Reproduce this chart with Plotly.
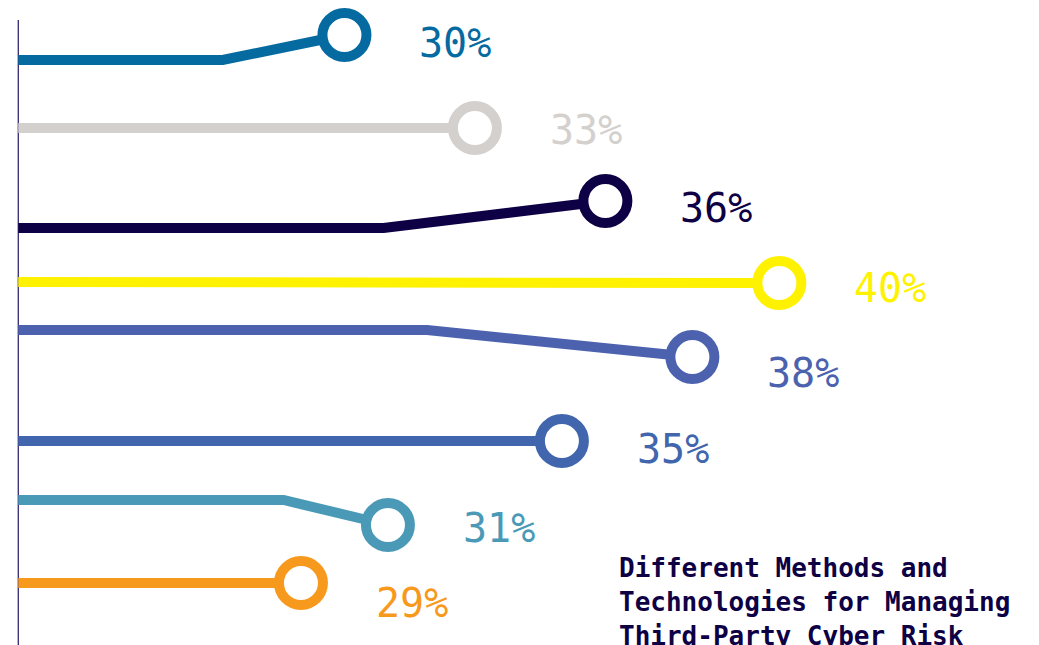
import plotly.graph_objects as go

# Share of respondents for each method (%)
shares = [30, 33, 36, 40, 38, 35, 31, 29]
colors = ["#046AA0", "#D4D0CD", "#0E0044", "#FFF200",
          "#4C62AE", "#4166AD", "#4A9AB7", "#F7991C"]
title_lines = ["Different Methods and",
               "Technologies for Managing",
               "Third-Party Cyber Risk"]

# Layout of the ribbons (pixel rows, bend points in % units)
line_rows = [60, 128, 228, 282, 330, 441, 500, 583]
marker_rows = [35, 128, 201, 283, 357, 441, 525, 583]
bend_at = [27.2, None, 30.9, None, 31.9, None, 28.6, None]
label_dy = [8, 2, 7, 5, 16, 8, 3, 20]

W, H = 1039, 645
x_start = 22.5
x_range = [22.08, 45.97]

FONT = "DejaVu Sans Mono"

fig = go.Figure()

for v, c, ly, my, b in zip(shares, colors, line_rows, marker_rows, bend_at):
    xs = [x_start]
    ys = [ly]
    if b is not None:
        xs.append(b)
        ys.append(ly)
    xs.append(v)
    ys.append(my)
    fig.add_trace(go.Scatter(
        x=xs, y=ys, mode="lines",
        line=dict(color=c, width=10, shape="linear"),
        hoverinfo="skip", showlegend=False,
    ))
    fig.add_trace(go.Scatter(
        x=[v], y=[my], mode="markers",
        marker=dict(size=44, color="white", line=dict(color=c, width=10)),
        hoverinfo="skip", showlegend=False,
    ))

for v, c, my, dy in zip(shares, colors, marker_rows, label_dy):
    fig.add_annotation(
        x=v, y=my + dy, text=f"{v}%", showarrow=False,
        xanchor="left", yanchor="middle", xshift=73,
        font=dict(family=FONT, size=40, color=c),
    )

fig.add_annotation(
    x=617 / W, y=1 - 551 / H, xref="paper", yref="paper",
    text="<br>".join(f"<b>{t}</b>" for t in title_lines),
    showarrow=False, xanchor="left", yanchor="top", align="left",
    font=dict(family=FONT, size=26, color="#0E0044"),
)

# Vertical baseline at the left
fig.add_shape(type="line", x0=x_start, x1=x_start, y0=20, y1=H,
              line=dict(color="#231566", width=1.2), layer="below")

fig.update_layout(
    width=W, height=H,
    margin=dict(l=0, r=0, t=0, b=0),
    paper_bgcolor="white", plot_bgcolor="white",
    xaxis=dict(range=x_range, visible=False, fixedrange=True),
    yaxis=dict(range=[H, 0], visible=False, fixedrange=True),
)

fig.write_html("out.html")
